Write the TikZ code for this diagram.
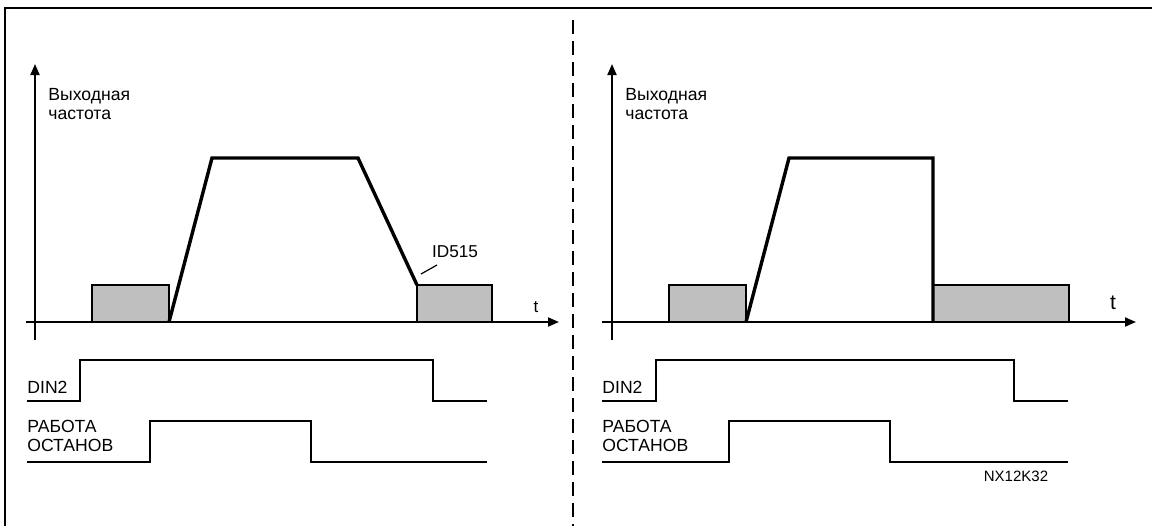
\documentclass[tikz,border=0pt]{standalone}
\usepackage{fontspec}
\setmainfont{Liberation Sans}
\usetikzlibrary{arrows.meta, positioning}
\tikzset{
	labeltext/.style={font=\fontsize{8.8}{9.6}\selectfont, align=left, inner sep=0pt, anchor=north west}
}
\tikzset{
	holdbox/.style={draw, line width=0.6pt, fill=gray!50}
}
\tikzset{
	signal/.style={line width=0.6pt}
}
\tikzset{
	axis/.style={line width=1pt, ->}
}
\tikzset{
	freqline/.style={line width=1.7pt, line join=miter}
}

\begin{document}
\begin{tikzpicture}[x=0.5pt, y=-0.5pt, >={Triangle[length=5.5pt, width=4.5pt]}]
      \useasboundingbox (0,0) rectangle (1152,526);
      \draw[line width=1pt] (5,526) -- (5,8) -- (1152,8);
      \draw[line width=0.75pt, dash pattern=on 7pt off 3.5pt] (573,20) -- (573,526);
      % left panel: ramp stop
      \draw[axis] (35,340) -- (35,64);
      \draw[axis] (26,322) -- (559,322);
      \node[labeltext] (fL) at (48,88) {Выходная\\частота};
      \node[font=\fontsize{8.5}{9}\selectfont, inner sep=0pt] (tL) at (536,307) {t};
      \draw[holdbox] (92,285) rectangle (169,322);
      \draw[holdbox] (417,285) rectangle (492,322);
      \draw[freqline] (169,322) -- (212,158) -- (358,158) -- (417,285);
      \node[font=\fontsize{8.6}{9}\selectfont, inner sep=0pt] (id515) at (455,252) {ID515};
      \coordinate (idend) at (437,265);
      \coordinate (idtip) at (421,274);
      \draw[signal] (idend) -- (idtip);
      \node[labeltext] (dinL) at (27,381) {DIN2};
      \draw[signal] (27,401) -- (80,401) -- (80,360) -- (433,360) -- (433,401) -- (487,401);
      \node[labeltext] (runL) at (27,420) {РАБОТА\\ОСТАНОВ};
      \draw[signal] (27,462) -- (150,462) -- (150,421) -- (311,421) -- (311,462) -- (487,462);
      % right panel: coast stop
      \draw[axis] (612,340) -- (612,64);
      \draw[axis] (602,322) -- (1136,322);
      \node[labeltext] (fR) at (625,88) {Выходная\\частота};
      \node[font=\fontsize{10.5}{11}\selectfont, inner sep=0pt] (tR) at (1113,303) {t};
      \draw[holdbox] (669,285) rectangle (746,322);
      \draw[holdbox] (933,285) rectangle (1069,322);
      \draw[freqline] (746,322) -- (789,158) -- (933,158) -- (933,322);
      \node[labeltext] (dinR) at (602,381) {DIN2};
      \draw[signal] (602,401) -- (656,401) -- (656,360) -- (1014,360) -- (1014,401) -- (1068,401);
      \node[labeltext] (runR) at (602,420) {РАБОТА\\ОСТАНОВ};
      \draw[signal] (602,462) -- (729,462) -- (729,421) -- (890,421) -- (890,462) -- (1068,462);
      \node[font=\fontsize{7.5}{8}\selectfont, inner sep=0pt] (code) at (1016,476) {NX12K32};
    \end{tikzpicture}
\end{document}
